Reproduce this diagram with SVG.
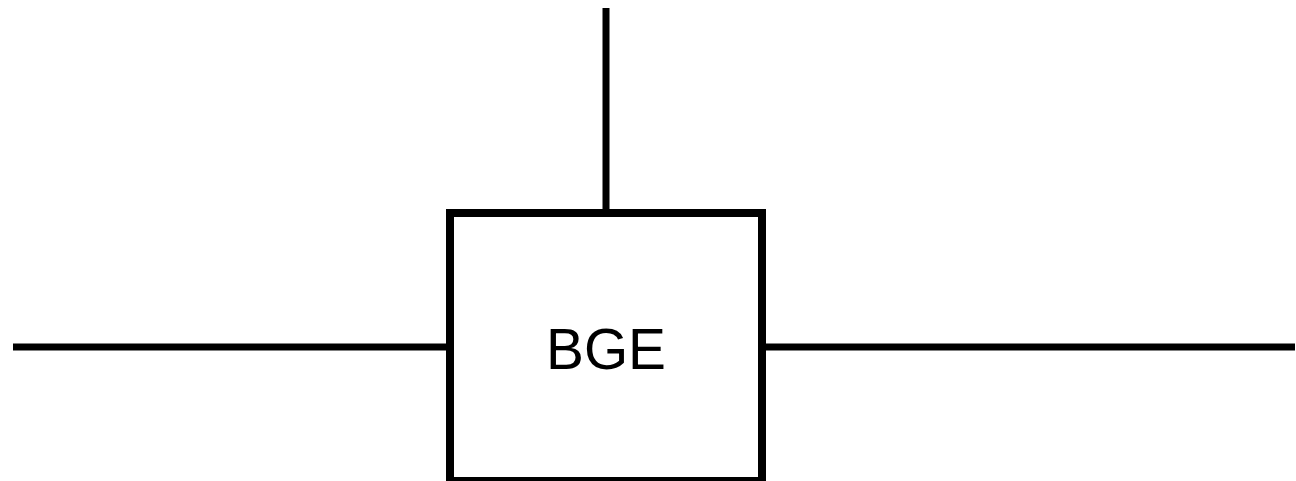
<svg xmlns="http://www.w3.org/2000/svg" width="1296" height="481" viewBox="0 0 1296 481">
<style>
.edge{stroke:#000;stroke-width:7;fill:none}
.box{fill:#fff;stroke:#000;stroke-width:8}
.lbl{font-family:"Liberation Sans",Arial,sans-serif;font-size:58px;fill:#000;text-anchor:middle}
</style>
<rect width="1296" height="481" fill="#fff"/>
<g id="connectors">
<line class="edge" x1="606" y1="8" x2="606" y2="213"/>
<line class="edge" x1="13" y1="347" x2="450" y2="347"/>
<line class="edge" x1="762" y1="347" x2="1295" y2="347"/>
</g>
<g id="node-bge">
<rect class="box" x="450" y="213" width="312" height="268"/>
<text class="lbl" x="606" y="369" textLength="120" lengthAdjust="spacingAndGlyphs">BGE</text>
</g>
</svg>
